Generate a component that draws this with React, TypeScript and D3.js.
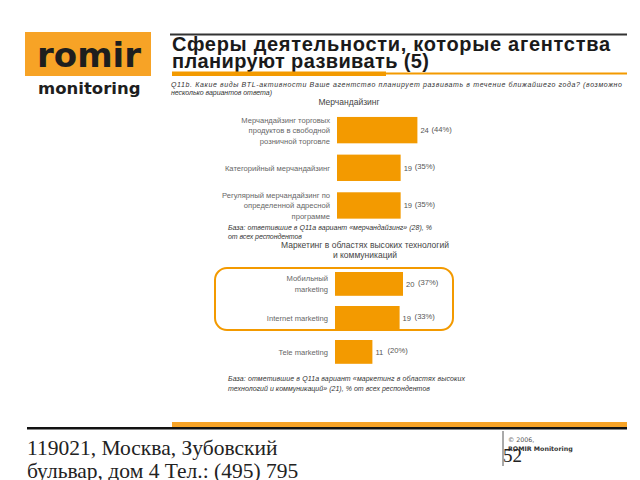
import React from "react";
import * as d3 from "d3";

const merchCategories = [
  ["Мерчандайзинг торговых", "продуктов в свободной", "розничной торговле"],
  ["Категорийный мерчандайзинг"],
  ["Регулярный мерчандайзинг по", "определенной адресной", "программе"],
];
const merchValues = [24, 19, 19];
const merchPct = [44, 35, 35];

const techCategories = [
  ["Мобильный", "marketing"],
  ["Internet marketing"],
  ["Tele marketing"],
];
const techValues = [20, 19, 11];
const techPct = [37, 33, 20];

const ORANGE = "#F39A00";
const LOGO = "#F7A326";
const FONT = "'Liberation Sans', Arial, sans-serif";
const DJ = "'DejaVu Sans', sans-serif";
const SERIF = "'Liberation Serif', 'Times New Roman', serif";

function BarBlock({
  cats, values, pct, x0, pxPerUnit, r0, r1, pctOffset, lh,
}: {
  cats: string[][]; values: number[]; pct: number[]; x0: number; pxPerUnit: number;
  r0: number; r1: number; pctOffset: number; lh: number;
}) {
  const ids = cats.map((_, i) => String(i));
  const y = d3.scaleBand<string>().domain(ids).range([r0, r1]).paddingInner(0.3).paddingOuter(0.15);
  const x = d3.scaleLinear().domain([0, 30]).range([x0, x0 + 30 * pxPerUnit]);
  return (
    <g>
      {ids.map((id, i) => {
        const yy = y(id)!;
        const bw = y.bandwidth();
        const cy = yy + bw / 2;
        const lines = cats[i];
        const startY = cy - ((lines.length - 1) * lh) / 2 + 3;
        return (
          <g key={id}>
            <rect x={x(0)} y={yy} width={x(values[i]) - x(0)} height={bw} fill={ORANGE} />
            {lines.map((l, j) => (
              <text key={j} x={x(0) - 7} y={startY + j * lh} textAnchor="end" fontSize={7.6} fill="#666" fontFamily={FONT}>
                {l}
              </text>
            ))}
            <text x={x(values[i]) + 3} y={cy + 3} fontSize={7.6} fill="#555" fontFamily={FONT}>{values[i]}</text>
            <text x={x(values[i]) + 3 + pctOffset} y={cy + 1.5} fontSize={7.6} fill="#555" fontFamily={FONT}>({pct[i]}%)</text>
          </g>
        );
      })}
    </g>
  );
}

export default function App() {
  return (
    <svg width={640} height={480} style={{ position: "absolute", left: 0, top: 0, background: "#fff" }}>
      {/* Logo */}
      <rect x={25} y={32} width={126} height={44} fill={LOGO} />
      <text x={37} y={67} fontSize={34} fontWeight="bold" fill="#1e1e1e" fontFamily={DJ}>romir</text>
      <text x={38} y={94} fontSize={16.5} fontWeight="bold" fill="#1e1e1e" fontFamily={DJ}>monitoring</text>

      {/* Title */}
      <rect x={170} y={33.5} width={457} height={2} fill="#333" />
      <text x={172} y={51} fontSize={20} fontWeight="bold" fill="#1a1a1a" fontFamily={FONT} textLength={438} lengthAdjust="spacing">Сферы деятельности, которые агентства</text>
      <text x={172} y={67.5} fontSize={20} fontWeight="bold" fill="#1a1a1a" fontFamily={FONT} textLength={257} lengthAdjust="spacing">планируют развивать (5)</text>
      <rect x={172} y={71.5} width={214} height={4.5} fill={ORANGE} />
      <rect x={172} y={72.5} width={455} height={2} fill={ORANGE} />

      <text x={171} y={86.5} fontSize={7} fontStyle="italic" fill="#333" fontFamily={FONT} textLength={451} lengthAdjust="spacing">
        Q11b. Какие виды BTL-активности Ваше агентство планирует развивать в течение ближайшего года? (возможно
      </text>
      <text x={171} y={94.5} fontSize={7} fontStyle="italic" fill="#333" fontFamily={FONT} textLength={101} lengthAdjust="spacing">несколько вариантов ответа)</text>

      {/* Chart 1 */}
      <text x={349} y={105} textAnchor="middle" fontSize={8.5} fill="#444" fontFamily={FONT}>Мерчандайзинг</text>
      <BarBlock cats={merchCategories} values={merchValues} pct={merchPct} x0={337} pxPerUnit={3.35} r0={111.3} r1={224.3} pctOffset={11} lh={10.5} />
      <text x={228} y={230} fontSize={7} fontStyle="italic" fill="#333" fontFamily={FONT} textLength={204} lengthAdjust="spacing">База: ответившие в Q11a вариант «мерчандайзинг» (28), %</text>
      <text x={228} y={238.5} fontSize={7} fontStyle="italic" fill="#333" fontFamily={FONT} textLength={74} lengthAdjust="spacing">от всех респондентов</text>

      {/* Chart 2 */}
      <text x={365} y={248} textAnchor="middle" fontSize={8.5} fill="#444" fontFamily={FONT}>Маркетинг в областях высоких технологий</text>
      <text x={365} y={258} textAnchor="middle" fontSize={8.5} fill="#444" fontFamily={FONT}>и коммуникаций</text>
      <rect x={215} y={268} width={238} height={62} rx={12} fill="none" stroke={ORANGE} strokeWidth={2} />
      <BarBlock cats={techCategories} values={techValues} pct={techPct} x0={335} pxPerUnit={3.4} r0={266.9} r1={368.9} pctOffset={12} lh={11} />
      <text x={228} y={381} fontSize={7} fontStyle="italic" fill="#333" fontFamily={FONT} textLength={237} lengthAdjust="spacing">База: отметившие в Q11a вариант «маркетинг в областях высоких</text>
      <text x={228} y={390.5} fontSize={7} fontStyle="italic" fill="#333" fontFamily={FONT} textLength={202} lengthAdjust="spacing">технологий и коммуникаций» (21), % от всех респондентов</text>

      {/* Footer */}
      <rect x={172} y={422} width={455} height={5} fill={LOGO} />
      <rect x={27} y={427} width={600} height={2.5} fill="#111" />
      <text x={27} y={455} fontSize={21.5} fill="#222" fontFamily={SERIF}>119021, Москва, Зубовский</text>
      <text x={27} y={478} fontSize={21.5} fill="#222" fontFamily={SERIF}>бульвар, дом 4 Тел.: (495) 795</text>
      <line x1={503} x2={503} y1={431} y2={466} stroke="#555" strokeWidth={1} />
      <text x={508} y={442} fontSize={6.3} fill="#555" fontFamily={DJ}>© 2006,</text>
      <text x={508} y={451} fontSize={6.3} fontWeight="bold" fill="#333" fontFamily={DJ}>ROMIR Monitoring</text>
      <text x={503} y={462} fontSize={19} fill="#222" fontFamily={SERIF}>52</text>
    </svg>
  );
}
